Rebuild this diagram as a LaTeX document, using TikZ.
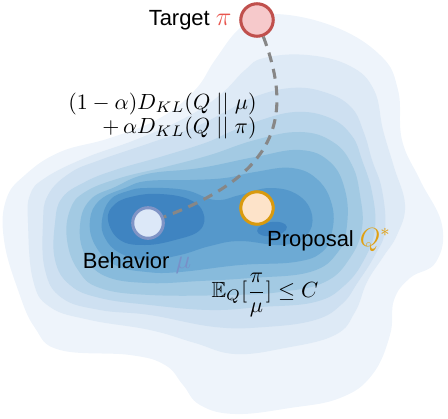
\documentclass[tikz,border=0pt]{standalone}
\usepackage{amsmath,amssymb}
\usepackage{fontspec}
\setsansfont{Liberation Sans}
\usetikzlibrary{positioning}
\definecolor{lvla}{HTML}{EEF4FB}
\definecolor{lvlb}{HTML}{DEEAF6}
\definecolor{lvlc}{HTML}{CEE0F1}
\definecolor{lvld}{HTML}{BAD6EB}
\definecolor{lvle}{HTML}{A3CAE3}
\definecolor{lvlf}{HTML}{88BBDC}
\definecolor{lvlg}{HTML}{6DAAD4}
\definecolor{lvlh}{HTML}{5598CB}
\definecolor{lvli}{HTML}{3F84C1}
\definecolor{tgtred}{HTML}{C0504D}
\definecolor{tgtfill}{HTML}{F6C9CB}
\definecolor{behline}{HTML}{7F94C6}
\definecolor{behfill}{HTML}{DCE8F8}
\definecolor{mutext}{HTML}{7890C8}
\definecolor{propline}{HTML}{D99A0E}
\definecolor{propfill}{HTML}{FDE3C9}
\definecolor{pitext}{HTML}{E8554E}
\definecolor{qtext}{HTML}{E0A012}
\begin{document}
\begin{tikzpicture}[x=0.016cm, y=-0.016cm,
          dist/.style={draw, circle, minimum size=0.52cm, inner sep=0pt, line width=1.4pt},
          lab/.style={font=\sffamily},
          klpath/.style={draw=black!47, line width=1.4pt, dash pattern=on 4.5pt off 3.2pt}]
        \useasboundingbox (0,0) rectangle (448,418);
        % density levels, outside in
        \fill[lvla] plot[smooth cycle, tension=0.7] coordinates {(268,14) (330,25) (380,55) (398,90) (402,140) (420,180) (442,225) (436,262) (410,278) (394,300) (390,335) (372,375) (340,398) (290,408) (235,414) (200,405) (183,385) (165,365) (130,355) (60,350) (35,328) (18,290) (4,240) (6,200) (25,175) (60,152) (110,138) (160,118) (195,90) (215,60) (240,28)};
        \fill[lvlb] plot[smooth cycle, tension=0.7] coordinates {(264,58) (307,55) (350,66) (374,90) (383,130) (394,167) (405,205) (397,235) (383,257) (367,282) (355,312) (335,335) (285,348) (235,354) (195,343) (150,330) (90,320) (50,307) (33,280) (28,223) (30,195) (45,178) (85,158) (135,140) (185,118) (220,95) (245,70)};
        \fill[lvlc] plot[smooth cycle, tension=0.7] coordinates {(254,97) (291,88) (324,92) (351,107) (364,133) (372,160) (382,190) (385,230) (375,255) (358,282) (342,304) (315,320) (265,327) (215,327) (150,315) (100,310) (62,298) (45,270) (43,223) (48,195) (70,173) (100,160) (150,143) (195,127) (225,112)};
        \fill[lvld] plot[smooth cycle, tension=0.7] coordinates {(255,122) (295,112) (330,118) (352,136) (362,160) (372,192) (375,228) (365,258) (345,285) (315,302) (260,307) (210,310) (150,305) (100,298) (70,285) (55,260) (55,223) (62,198) (85,182) (115,170) (160,157) (205,143) (230,132)};
        \fill[lvle] plot[smooth cycle, tension=0.7] coordinates {(255,140) (300,132) (333,142) (352,165) (360,195) (362,228) (350,258) (325,282) (280,292) (230,295) (150,295) (100,288) (78,270) (67,240) (70,210) (85,192) (120,178) (165,167) (210,155)};
        \fill[lvlf] plot[smooth cycle, tension=0.7] coordinates {(255,157) (300,150) (330,162) (345,190) (347,225) (338,252) (310,272) (250,278) (200,281) (147,283) (105,276) (85,255) (80,225) (90,200) (115,187) (147,174) (200,168)};
        \fill[lvlg] plot[smooth cycle, tension=0.7] coordinates {(255,172) (292,168) (318,180) (332,205) (332,232) (322,252) (295,262) (240,265) (180,272) (147,272) (115,265) (95,245) (90,220) (100,200) (125,188) (147,181) (190,180) (225,178)};
        \fill[lvlh] plot[smooth cycle, tension=0.7] coordinates {(147,188) (185,190) (215,200) (240,195) (270,188) (298,195) (312,215) (306,236) (282,245) (240,241) (210,246) (180,255) (147,260) (120,253) (105,238) (102,220) (110,200) (128,191)};
        \fill[lvli] plot[smooth cycle, tension=0.7] coordinates {(108,220) (115,204) (135,196) (160,194) (188,199) (203,212) (200,230) (175,240) (145,245) (120,240)};
        \fill[lvli, rotate around={8:(272,229)}] (272,229) ellipse [x radius=15, y radius=7];

        \node[dist, draw=tgtred, fill=tgtfill] (tgt) at (257,20) {};
        \node[dist, draw=behline, fill=behfill, minimum size=0.49cm] (beh) at (148,223) {};
        \node[dist, draw=propline, fill=propfill] (prop) at (257,208) {};

        \node[lab, left=0pt of tgt] (tgtlab) {Target {\large\textcolor{pitext}{$\pi$}}};
        \node[lab] (behlab) at (137,263) {Behavior {\large\textcolor{mutext}{$\mu$}}};
        \node[lab] (proplab) at (329,240) {Proposal {\large\textcolor{qtext}{$Q^{*}$}}};
        \node[align=right, anchor=east, inner sep=0pt] (kllab) at (257,116)
          {$(1-\alpha)D_{KL}(Q\;||\;\mu)$\\[-1pt] $+\,\alpha D_{KL}(Q\;||\;\pi)$};
        \node (bndlab) at (265,295) {$\mathbb{E}_{Q}[\dfrac{\pi}{\mu}] \leq C$};

        \path[klpath] (tgt) .. controls (295,120) and (275,175) .. (beh);
      \end{tikzpicture}
\end{document}
